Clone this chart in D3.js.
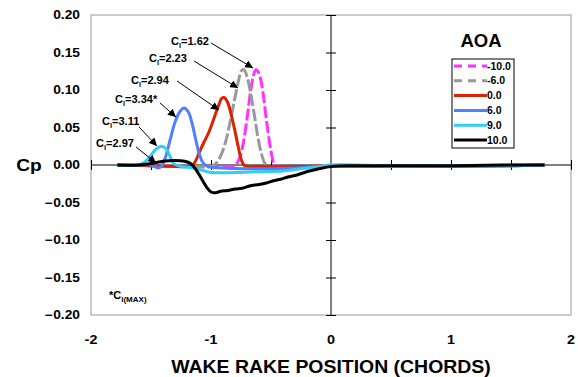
<!DOCTYPE html>
<html>
<head>
<meta charset="utf-8">
<script src="https://cdn.jsdelivr.net/npm/d3@7"></script>
<style>
  body { margin: 0; background: #fff; }
  text { font-family: Arial, 'Liberation Sans', sans-serif; font-weight: bold; fill: #000; }
</style>
</head>
<body>
<svg id="chart" width="578" height="377"></svg>
<script>
// wake rake position (chords) vs Cp, one series per angle of attack
const aoaLabels = ['-10.0', '-6.0', '0.0', '6.0', '9.0', '10.0'];
const aoaColors = ['#ff33ff', '#999999', '#dd2200', '#5080ff', '#33ccff', '#000000'];
const aoaDashed = [true, true, false, false, false, false];

const cpM10 = [[-1.78,0],[-1.5,-0.001],[-1.2,-0.002],[-1.0,-0.002],[-0.82,-0.002],[-0.79,0.001],[-0.76,0.01],[-0.73,0.03],[-0.7,0.062],[-0.67,0.098],[-0.645,0.12],[-0.625,0.127],[-0.6,0.122],[-0.57,0.1],[-0.54,0.062],[-0.51,0.028],[-0.49,0.01],[-0.47,0.0],[-0.4,-0.002],[-0.2,-0.002],[0,-0.001],[0.5,-0.002],[1.0,-0.001],[1.5,-0.001],[1.78,0]];
const cpM6 = [[-1.78,0],[-1.5,-0.001],[-1.2,-0.002],[-1.0,-0.002],[-0.96,0.002],[-0.92,0.012],[-0.88,0.03],[-0.84,0.058],[-0.8,0.09],[-0.77,0.113],[-0.745,0.126],[-0.725,0.127],[-0.7,0.118],[-0.67,0.096],[-0.64,0.068],[-0.61,0.038],[-0.58,0.015],[-0.55,0.002],[-0.52,-0.002],[-0.3,-0.002],[0,-0.001],[0.5,-0.002],[1.0,-0.001],[1.5,-0.001],[1.78,0]];
const cp0 = [[-1.78,0],[-1.5,-0.001],[-1.3,-0.002],[-1.16,-0.001],[-1.13,0.005],[-1.1,0.016],[-1.06,0.03],[-1.02,0.043],[-0.98,0.06],[-0.94,0.078],[-0.91,0.089],[-0.89,0.09],[-0.86,0.083],[-0.83,0.066],[-0.8,0.045],[-0.77,0.022],[-0.745,0.006],[-0.72,-0.001],[-0.6,-0.002],[-0.3,-0.002],[0,-0.001],[0.5,-0.002],[1.0,-0.002],[1.5,-0.001],[1.78,0]];
const cp6 = [[-1.78,0],[-1.6,0.0],[-1.5,0.0],[-1.47,-0.002],[-1.44,-0.004],[-1.41,-0.001],[-1.38,0.01],[-1.34,0.034],[-1.3,0.057],[-1.26,0.071],[-1.225,0.076],[-1.19,0.071],[-1.16,0.057],[-1.13,0.036],[-1.1,0.016],[-1.07,0.004],[-1.03,-0.002],[-0.9,-0.004],[-0.7,-0.005],[-0.5,-0.005],[-0.3,-0.004],[-0.1,-0.002],[0,-0.001],[0.5,-0.002],[1.0,-0.001],[1.5,-0.001],[1.78,0]];
const cp9 = [[-1.78,0],[-1.62,0.0],[-1.56,0.003],[-1.51,0.011],[-1.46,0.021],[-1.41,0.025],[-1.37,0.021],[-1.34,0.011],[-1.31,0.002],[-1.25,-0.002],[-1.15,-0.004],[-1.05,-0.008],[-1.0,-0.01],[-0.8,-0.01],[-0.6,-0.009],[-0.4,-0.008],[-0.25,-0.005],[-0.1,-0.002],[0,0],[0.5,-0.001],[1.0,-0.001],[1.5,0],[1.78,0]];
const cp10 = [[-1.78,0],[-1.6,0.0],[-1.5,0.002],[-1.4,0.005],[-1.3,0.006],[-1.22,0.005],[-1.17,0.002],[-1.13,-0.005],[-1.08,-0.018],[-1.03,-0.031],[-1.0,-0.036],[-0.96,-0.037],[-0.92,-0.035],[-0.86,-0.034],[-0.8,-0.032],[-0.74,-0.031],[-0.68,-0.028],[-0.6,-0.026],[-0.54,-0.024],[-0.48,-0.021],[-0.42,-0.019],[-0.36,-0.016],[-0.3,-0.014],[-0.24,-0.011],[-0.18,-0.008],[-0.1,-0.005],[0,-0.002],[0.2,-0.001],[0.5,-0.001],[1.0,-0.001],[1.5,0],[1.78,0]];
const series = [cpM10, cpM6, cp0, cp6, cp9, cp10];

const xTicks = [-2, -1, 0, 1, 2];
const xMinorTicks = [-2, -1.5, -1, -0.5, 0.5, 1, 1.5, 2];
const yTicks = [-0.2, -0.15, -0.1, -0.05, 0, 0.05, 0.1, 0.15, 0.2];

// lift coefficient callouts: [value, text x, text y, arrow x1, y1, x2, y2]
const callouts = [
  ['1.62', -1.333, 0.165, -1.0, 0.1627, -0.65, 0.1293],
  ['2.23', -1.517, 0.143, -1.142, 0.1387, -0.775, 0.1027],
  ['2.94', -1.667, 0.1133, -1.283, 0.112, -0.933, 0.0733],
  ['3.34*', -1.8, 0.088, -1.425, 0.0827, -1.292, 0.064],
  ['3.11', -1.908, 0.0587, -1.6, 0.0507, -1.45, 0.0253],
  ['2.97', -1.958, 0.0293, -1.625, 0.024, -1.458, 0.0027]
];

const svg = d3.select('#chart');
const pLeft = 91, pRight = 571, pTop = 15, pBottom = 315;

const x = d3.scaleLinear().domain([-2, 2]).range([pLeft, pRight]);
const y = d3.scaleLinear().domain([-0.2, 0.2]).range([pBottom, pTop]);

// text that is a bit wider than the font, as in the original
function wideText(g, px, py, sx) {
  return g.append('text')
      .attr('transform', 'translate(' + px + ',' + py + ') scale(' + sx + ',1)')
      .attr('dy', '0.35em');
}

svg.append('defs').append('marker')
    .attr('id', 'arrow')
    .attr('viewBox', '0 0 10 10')
    .attr('refX', 10).attr('refY', 5)
    .attr('markerWidth', 8).attr('markerHeight', 8)
    .attr('markerUnits', 'userSpaceOnUse')
    .attr('orient', 'auto')
  .append('path')
    .attr('d', 'M0,0L10,5L0,10z')
    .attr('fill', '#000');

// plot frame
svg.append('rect')
    .attr('x', pLeft).attr('y', pTop)
    .attr('width', pRight - pLeft).attr('height', pBottom - pTop)
    .attr('fill', 'none').attr('stroke', '#999').attr('stroke-width', 1);

// y tick labels on the left
yTicks.forEach(d => {
  wideText(svg, 80, y(d), 1.15)
      .attr('text-anchor', 'end')
      .style('font-size', '12px')
      .text(d3.format('.2f')(d));
});

// x tick labels
xTicks.forEach(d => {
  wideText(svg, x(d), 340, 1.15)
      .attr('text-anchor', 'middle')
      .style('font-size', '12.5px')
      .text(d);
});

wideText(svg, 29, y(0), 1.2)
    .attr('text-anchor', 'middle')
    .style('font-size', '16px')
    .text('Cp');

wideText(svg, x(0), 367, 1.08)
    .attr('text-anchor', 'middle')
    .style('font-size', '18px')
    .text('WAKE RAKE POSITION (CHORDS)');

// crossing axes through the origin
const axisX = svg.append('g').attr('transform', 'translate(0,' + y(0) + ')');
axisX.call(d3.axisBottom(x).tickValues(xMinorTicks).tickSize(5).tickFormat(''));
axisX.call(g => g.selectAll('.tick line').attr('y1', -5));
axisX.select('.domain').attr('d', 'M' + pLeft + ',0H' + pRight);

const axisY = svg.append('g').attr('transform', 'translate(' + x(0) + ',0)');
axisY.call(d3.axisLeft(y).tickValues(yTicks.filter(d => d !== 0)).tickSize(5).tickFormat(''));
axisY.call(g => g.selectAll('.tick line').attr('x1', 5));
axisY.select('.domain').attr('d', 'M0,' + pTop + 'V' + pBottom);
svg.selectAll('.domain, .tick line').attr('stroke', '#000');

// series lines
const line = d3.line()
    .x(d => x(d[0]))
    .y(d => y(d[1]))
    .curve(d3.curveCatmullRom.alpha(0.5));

series.forEach((s, i) => {
  svg.append('path')
      .datum(s)
      .attr('fill', 'none')
      .attr('stroke', aoaColors[i])
      .attr('stroke-width', 3)
      .attr('stroke-linejoin', 'round')
      .attr('stroke-dasharray', aoaDashed[i] ? '12,3' : null)
      .attr('d', line);
});

// callouts
const cg = svg.append('g');
callouts.forEach(c => {
  const t = cg.append('text')
      .attr('x', x(c[1])).attr('y', y(c[2])).attr('dy', '0.35em')
      .style('font-size', '11px');
  t.append('tspan').text('C');
  t.append('tspan').attr('dy', '3').style('font-size', '7.5px').text('l');
  t.append('tspan').attr('dy', '-3').text('=' + c[0]);
  cg.append('line')
      .attr('x1', x(c[3])).attr('y1', y(c[4]))
      .attr('x2', x(c[5])).attr('y2', y(c[6]))
      .attr('stroke', '#000').attr('stroke-width', 1)
      .attr('marker-end', 'url(#arrow)');
});

// footnote
const fn = svg.append('text')
    .attr('x', x(-1.85)).attr('y', y(-0.174)).attr('dy', '0.35em')
    .style('font-size', '11px');
fn.append('tspan').text('*C');
fn.append('tspan').attr('dy', '3').style('font-size', '8px').text('l(MAX)');

// legend
svg.append('text')
    .attr('x', 481).attr('y', 41).attr('dy', '0.35em')
    .attr('text-anchor', 'middle')
    .style('font-size', '18.5px')
    .text('AOA');

svg.append('rect')
    .attr('x', 452).attr('y', 59).attr('width', 62).attr('height', 89)
    .attr('fill', '#fff').attr('stroke', '#000').attr('stroke-width', 1);

const lg = svg.append('g').selectAll('g')
  .data(aoaLabels)
  .enter().append('g')
    .attr('transform', (d, i) => 'translate(454,' + (66 + i * 14.8) + ')');
lg.append('line')
    .attr('x1', 0).attr('x2', 33)
    .attr('stroke', (d, i) => aoaColors[i])
    .attr('stroke-width', 3)
    .attr('stroke-dasharray', (d, i) => aoaDashed[i] ? '8,6' : null);
lg.append('text')
    .attr('x', 33).attr('dy', '0.35em')
    .style('font-size', '10.5px')
    .text(d => d);
</script>
</body>
</html>
